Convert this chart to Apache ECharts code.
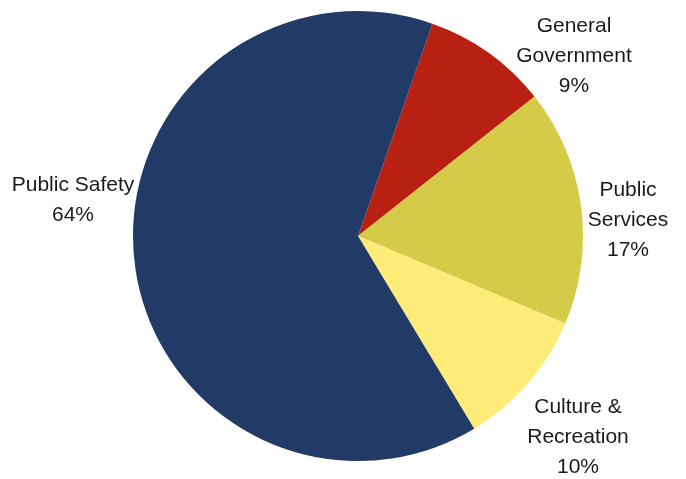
<!DOCTYPE html>
<html>
<head>
<meta charset="utf-8">
<script src="https://cdn.jsdelivr.net/npm/echarts@6/dist/echarts.min.js"></script>
<style>
  html, body { margin: 0; padding: 0; background: #ffffff; }
  #chart { width: 686px; height: 479px; }
</style>
</head>
<body>
<div id="chart"></div>
<script>
// Spending share by function (percent of total)
const categories = ['General Government', 'Public Services', 'Culture & Recreation', 'Public Safety'];
const shares = [9, 17, 10, 64];
const labelLines = [
  ['General', 'Government'],
  ['Public', 'Services'],
  ['Culture &', 'Recreation'],
  ['Public Safety']
];
const sliceColors = ['#B82112', '#D6CB48', '#FFEB78', '#213A66'];

// Label block centres placed around the pie
const labelSpots = [[574, 56], [628, 220], [578, 437], [73, 200]];

const chart = echarts.init(document.getElementById('chart'), null, { renderer: 'canvas' });

chart.setOption({
  backgroundColor: '#ffffff',
  animation: false,
  series: [{
    type: 'pie',
    center: [358, 236],
    radius: 225,
    startAngle: 70.7,
    clockwise: true,
    avoidLabelOverlap: false,
    data: categories.map((name, i) => ({
      name: name,
      value: shares[i],
      itemStyle: { color: sliceColors[i] }
    })),
    itemStyle: { borderWidth: 0 },
    label: {
      show: true,
      position: 'outside',
      formatter: p => labelLines[p.dataIndex].concat([p.value + '%']).join('\n'),
      fontFamily: '"Liberation Sans", Arial, sans-serif',
      fontSize: 21,
      lineHeight: 30,
      color: '#1a1a1a',
      align: 'center'
    },
    labelLine: { show: false },
    labelLayout: p => ({
      x: labelSpots[p.dataIndex][0],
      y: labelSpots[p.dataIndex][1],
      align: 'center',
      verticalAlign: 'middle'
    })
  }]
});
</script>
</body>
</html>
